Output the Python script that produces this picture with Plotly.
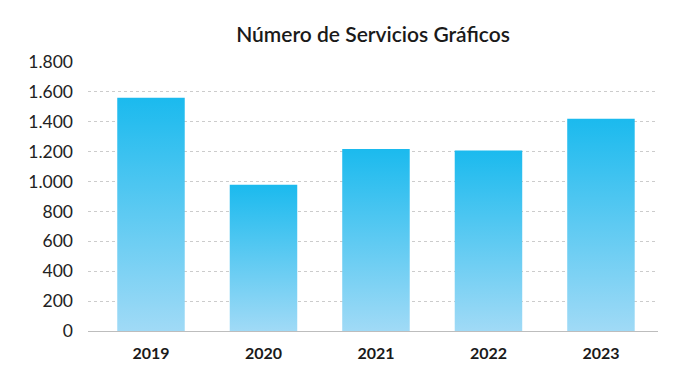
import plotly.graph_objects as go

years = ["2019", "2020", "2021", "2022", "2023"]
values = [1560, 978, 1218, 1207, 1420]
y_ticks = [0, 200, 400, 600, 800, 1000, 1200, 1400, 1600, 1800]

title = "Número de Servicios Gráficos"
bar_width = 0.6

fig = go.Figure()
for i, (yr, v) in enumerate(zip(years, values)):
    x0, x1 = i - bar_width / 2, i + bar_width / 2
    fig.add_trace(go.Scatter(
        x=[x0, x1, x1, x0, x0],
        y=[0, 0, v, v, 0],
        mode="lines",
        fill="toself",
        line=dict(width=0, color="rgba(0,0,0,0)"),
        fillgradient=dict(type="vertical",
                          colorscale=[[0, "#A0DAF6"], [1, "#1BBAEE"]]),
        hoverinfo="text",
        text=f"{yr}: {v}",
        showlegend=False,
    ))

fig.update_layout(
    width=689, height=381,
    margin=dict(l=80, r=39, t=54, b=58),
    paper_bgcolor="white", plot_bgcolor="white",
    separators=",.",
    title=dict(text=title, xref="paper", x=0.5, xanchor="center", y=0.929, yanchor="middle",
               font=dict(family="Lato", size=21, color="#1a1a1a", weight=600)),
    font=dict(family="Lato", color="#222"),
    xaxis=dict(range=[-0.56, 4.507], tickvals=list(range(len(years))), ticktext=years,
               showgrid=False, zeroline=False, showline=True, linecolor="#bdbdbd", linewidth=1,
               ticks="", tickfont=dict(size=16, weight=700, color="#1a1a1a"), ticklabelstandoff=8,
               fixedrange=True),
    yaxis=dict(range=[0, 1800], tickvals=y_ticks, tickformat=",d",
               showgrid=True, gridcolor="#cccccc", griddash="dot", gridwidth=1,
               zeroline=False, showline=False, ticks="",
               tickfont=dict(family="Lato", size=17.5, color="#222"), ticklabelstandoff=14,
               fixedrange=True),
)

fig.write_html("out.html")
